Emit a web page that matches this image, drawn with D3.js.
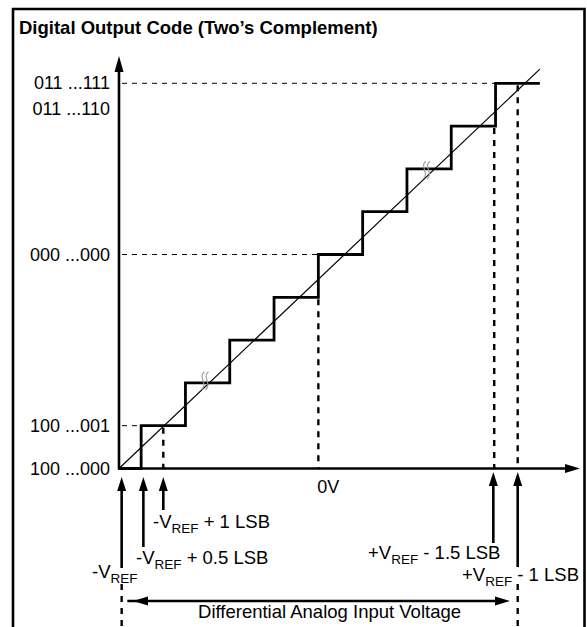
<!DOCTYPE html>
<html>
<head>
<meta charset="utf-8">
<script src="https://cdn.jsdelivr.net/npm/d3@7"></script>
<style>
  html, body { margin: 0; padding: 0; background: #fff; }
  svg { display: block; }
  text { font-family: "Liberation Sans", Arial, sans-serif; fill: #000; }
</style>
</head>
<body>
<div id="chart"></div>
<script>
// ---------------- data ----------------
const titleText = "Digital Output Code (Two\u2019s Complement)";
// code transitions (input in LSB from -VREF) and resulting output codes
const transitionLSB = [0.5, 1.5, 2.5, 3.5, 4.5, 5.5, 6.5, 7.5, 8.5];
const outputCodes   = [1, 2, 3, 4, 5, 6, 7, 8, 9];
const endLSB = 9.5;
// ideal transfer line (LSB, code)
const idealLine = [[0, 0], [9.5, 9.33]];
// y tick labels (code position, label)
const yTickCodes  = [9, 8.4, 5, 1, 0];
const yTickLabels = ["011 ...111", "011 ...110", "000 ...000", "100 ...001", "100 ...000"];
// horizontal dashed guides: code level, ends at LSB
const hGuideCodes = [9, 5, 1];
const hGuideEnds  = [8.5, 4.5, 0.5];
// vertical dashed guides: LSB position, starts at code
const vGuideLSB   = [1.0, 4.5, 8.47, 9.0];
const vGuideCodes = [1, 4, 8, 9];
// 0V marker
const zeroVLSB = 4.5;
// annotation arrows below axis (LSB position)
const annotLSB = [0.06, 0.55, 1.0, 8.45, 9.0];
const annotPre  = ["-V", "-V", "-V", "+V", "+V"];
const annotSub  = ["REF", "REF", "REF", "REF", "REF"];
const annotPost = ["", " + 0.5 LSB", " + 1 LSB", " - 1.5 LSB", " - 1 LSB"];
// break marks (LSB, code)
const breakLSB   = [1.93, 6.93];
const breakCodes = [2.05, 6.97];
const rangeLabel = "Differential Analog Input Voltage";
const rangeLSB = [0.3, 8.8];
const rangeEdgeLSB = [0.06, 9.0];

// ---------------- layout ----------------
const W = 587, H = 627;
const x0 = 119, y0 = 468.5;
const x = d3.scaleLinear().domain([0, 10]).range([x0, x0 + 443]);
const y = d3.scaleLinear().domain([0, 9]).range([y0, y0 - 385.2]);

const svg = d3.select("#chart").append("svg").attr("width", W).attr("height", H);

// frame
svg.append("path")
  .attr("d", `M13,${H + 5} V9 H584.5 V${H + 5}`)
  .attr("fill", "none").attr("stroke", "#000").attr("stroke-width", 2.6);

svg.append("text").attr("x", 19).attr("y", 34)
  .style("font-weight", "bold").style("font-size", "18.5px").text(titleText);

function arrowHead(px, py, dir, len = 14, half = 4.5) {
  let pts;
  if (dir === "up") pts = [[px, py], [px - half, py + len], [px + half, py + len]];
  if (dir === "right") pts = [[px, py], [px - len, py - half], [px - len, py + half]];
  if (dir === "left") pts = [[px, py], [px + len, py - half], [px + len, py + half]];
  svg.append("path").attr("d", "M" + pts.map(p => p.join(",")).join("L") + "Z").attr("fill", "#000");
}

// horizontal dashed guides
hGuideCodes.forEach((c, i) => {
  svg.append("line")
    .attr("x1", x(0) + 3).attr("x2", x(hGuideEnds[i]))
    .attr("y1", y(c)).attr("y2", y(c))
    .attr("stroke", "#000").attr("stroke-width", 1).attr("stroke-dasharray", "5,5");
});
// vertical dashed guides
vGuideLSB.forEach((l, i) => {
  svg.append("line")
    .attr("x1", x(l)).attr("x2", x(l))
    .attr("y1", y(vGuideCodes[i]) + 2).attr("y2", y0)
    .attr("stroke", "#000").attr("stroke-width", 2.4).attr("stroke-dasharray", "6,6");
});
// lower dashed markers for range edges
rangeEdgeLSB.forEach(l => {
  svg.append("line")
    .attr("x1", x(l)).attr("x2", x(l))
    .attr("y1", 584).attr("y2", H)
    .attr("stroke", "#000").attr("stroke-width", 2.4).attr("stroke-dasharray", "6,6");
});

// ideal line
svg.append("path")
  .attr("d", d3.line().x(d => x(d[0])).y(d => y(d[1]))(idealLine))
  .attr("fill", "none").attr("stroke", "#000").attr("stroke-width", 1.2);

// staircase
const stairPts = [[0, 0]].concat(transitionLSB.map((t, i) => [t, outputCodes[i]]));
stairPts.push([endLSB, outputCodes[outputCodes.length - 1]]);
svg.append("path")
  .attr("d", d3.line().x(d => x(d[0])).y(d => y(d[1])).curve(d3.curveStepAfter)(stairPts))
  .attr("fill", "none").attr("stroke", "#000").attr("stroke-width", 2.8).attr("stroke-linejoin", "miter");

// break marks
breakLSB.forEach((l, i) => {
  const bx = x(l), by = y(breakCodes[i]);
  [-2, 2].forEach(o => {
    svg.append("path")
      .attr("d", `M${bx + o + 2},${by - 9} C${bx + o - 5},${by - 4} ${bx + o + 6},${by + 3} ${bx + o - 1},${by + 9}`)
      .attr("fill", "none").attr("stroke", "#999").attr("stroke-width", 1.1);
  });
});

// axes
svg.append("line").attr("x1", x0).attr("x2", x0).attr("y1", y0 + 1).attr("y2", 70)
  .attr("stroke", "#000").attr("stroke-width", 2.6);
arrowHead(x0, 56, "up", 16, 4.5);
svg.append("line").attr("x1", x0 - 1).attr("x2", 568).attr("y1", y0).attr("y2", y0)
  .attr("stroke", "#000").attr("stroke-width", 2.6);
arrowHead(580, y0, "right", 15, 4.5);

// y tick labels
yTickCodes.forEach((c, i) => {
  svg.append("text").attr("x", 110).attr("y", y(c) + 6)
    .attr("text-anchor", "end").style("font-size", "18px").text(yTickLabels[i]);
});

// 0V
svg.append("text").attr("x", x(zeroVLSB) - 1).attr("y", 493).style("font-size", "18px").text("0V");

// annotation arrows
const annotTip = [477, 477, 477, 472, 472];
const annotBottom = [568, 547, 510, 543, 567];
const annotTextX = [92, 136, 153, 368, 462];
const annotTextY = [578, 564, 528, 559, 581];
annotLSB.forEach((l, i) => {
  const ax = x(l);
  svg.append("line").attr("x1", ax).attr("x2", ax).attr("y1", annotTip[i] + 10).attr("y2", annotBottom[i])
    .attr("stroke", "#000").attr("stroke-width", 2.6);
  arrowHead(ax, annotTip[i], "up", 14, 4.5);
  const t = svg.append("text").attr("x", annotTextX[i]).attr("y", annotTextY[i]).style("font-size", "18.5px");
  t.append("tspan").text(annotPre[i]);
  t.append("tspan").attr("dy", 5).style("font-size", "13.5px").text(annotSub[i]);
  if (annotPost[i]) t.append("tspan").attr("dy", -5).text(annotPost[i]);
});

// range double arrow
const ry = 601;
svg.append("line").attr("x1", x(rangeLSB[0]) - 5).attr("x2", x(rangeLSB[1]) - 5).attr("y1", ry).attr("y2", ry)
  .attr("stroke", "#000").attr("stroke-width", 2.6);
arrowHead(133, ry, "left", 15, 4.5);
arrowHead(510, ry, "right", 15, 4.5);
svg.append("text").attr("x", 461).attr("y", 618).attr("text-anchor", "end")
  .style("font-size", "18.5px").text(rangeLabel);
</script>
</body>
</html>
